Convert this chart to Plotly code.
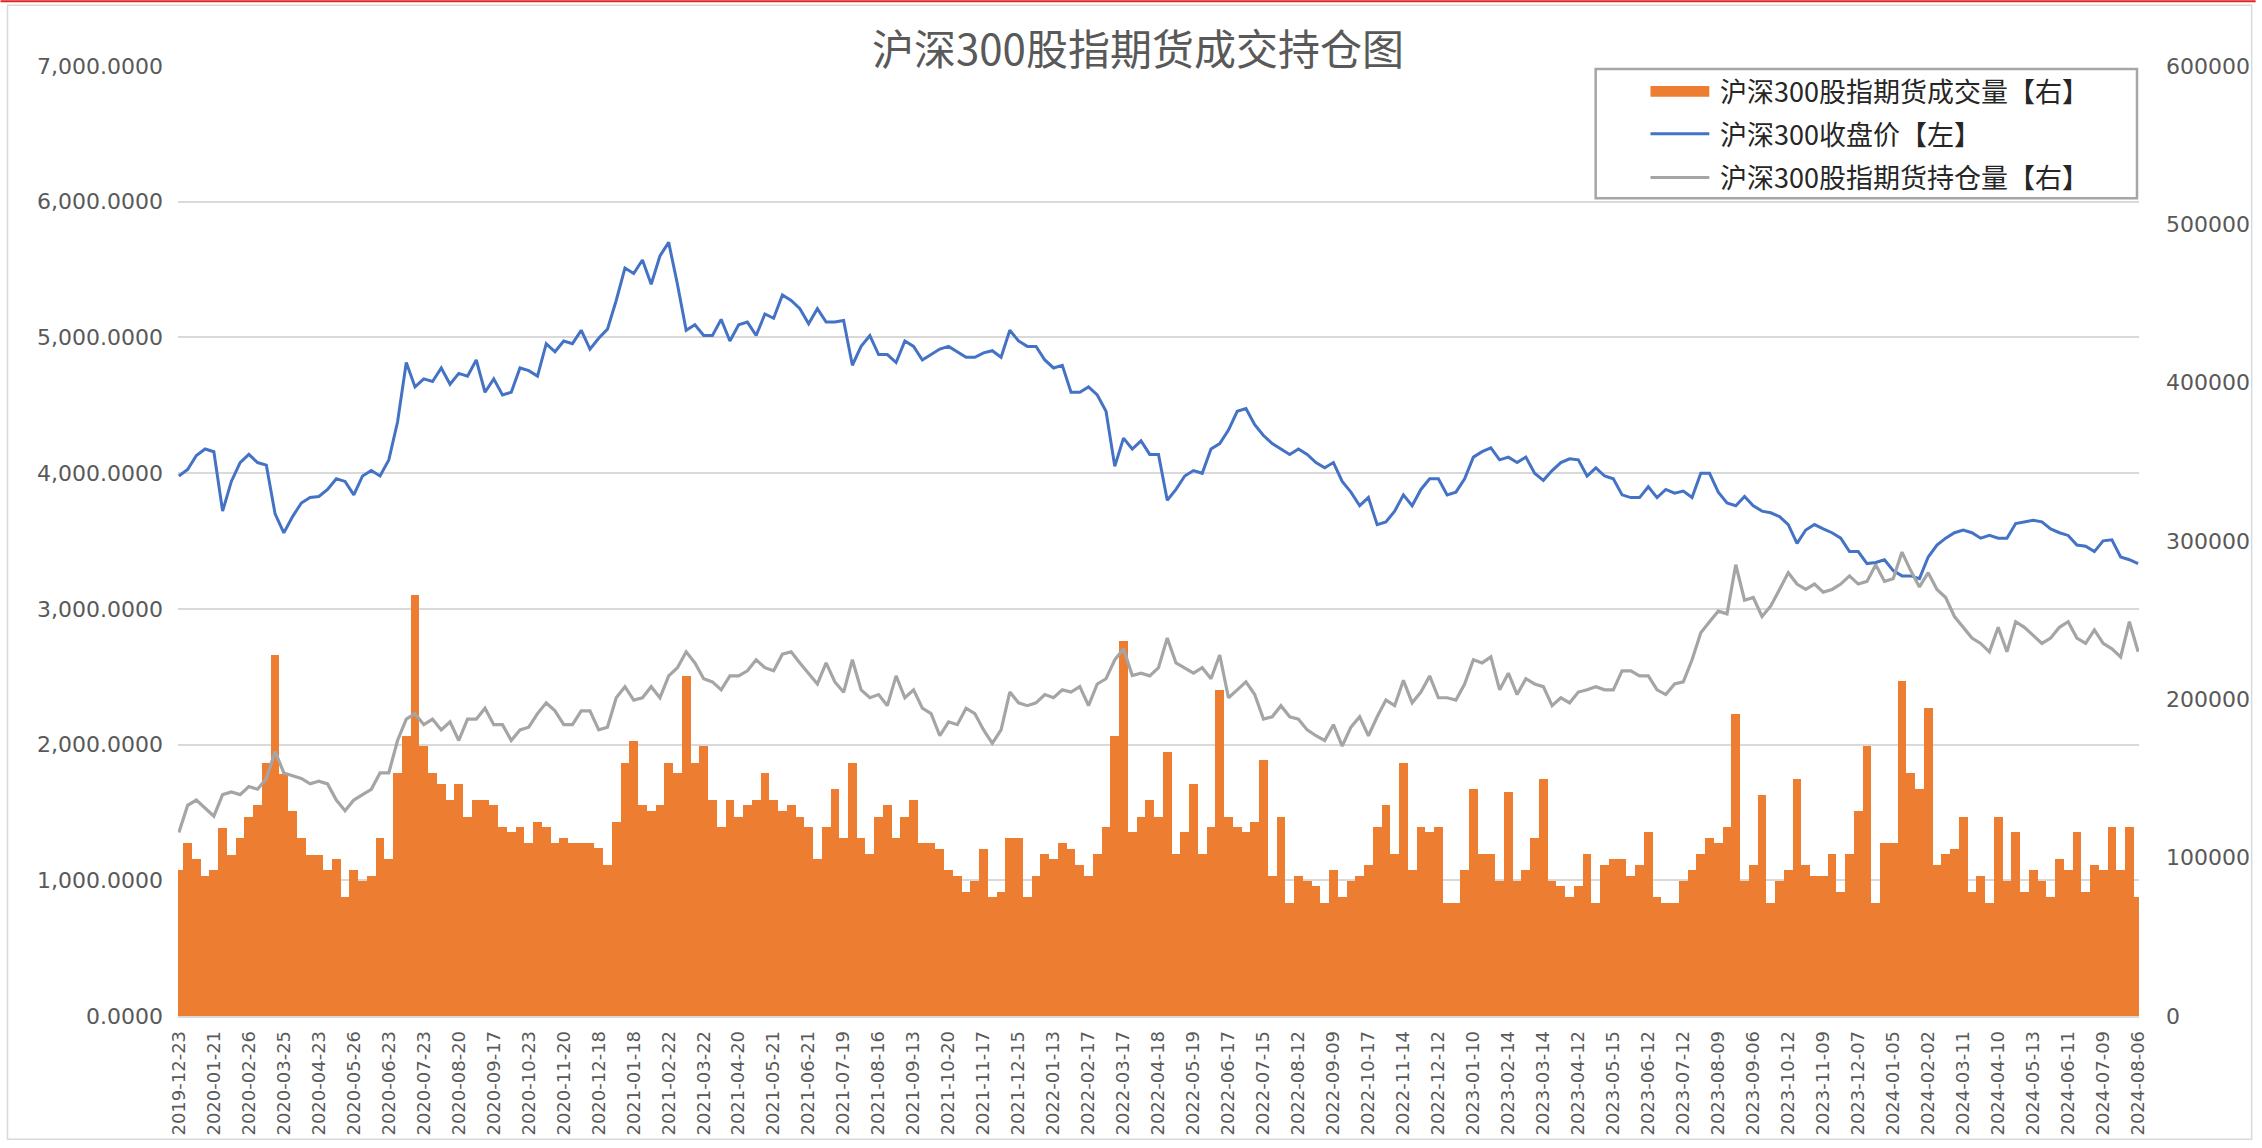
import plotly.graph_objects as go

# ---------------- data (sampled every 5 trading days) ----------------
tick_labels = [
    "2019-12-23", "2020-01-21", "2020-02-26", "2020-03-25", "2020-04-23", "2020-05-26",
    "2020-06-23", "2020-07-23", "2020-08-20", "2020-09-17", "2020-10-23", "2020-11-20",
    "2020-12-18", "2021-01-18", "2021-02-22", "2021-03-22", "2021-04-20", "2021-05-21",
    "2021-06-21", "2021-07-19", "2021-08-16", "2021-09-13", "2021-10-20", "2021-11-17",
    "2021-12-15", "2022-01-13", "2022-02-17", "2022-03-17", "2022-04-18", "2022-05-19",
    "2022-06-17", "2022-07-15", "2022-08-12", "2022-09-09", "2022-10-17", "2022-11-14",
    "2022-12-12", "2023-01-10", "2023-02-14", "2023-03-14", "2023-04-12", "2023-05-15",
    "2023-06-12", "2023-07-12", "2023-08-09", "2023-09-06", "2023-10-12", "2023-11-09",
    "2023-12-07", "2024-01-05", "2024-02-02", "2024-03-11", "2024-04-10", "2024-05-13",
    "2024-06-11", "2024-07-09", "2024-08-06",
]
tick_step = 20          # trading days between labelled dates
sample_step = 5         # trading days between sampled values

close_price = [
    3979, 4027, 4130, 4178, 4158, 3720, 3939, 4078, 4138, 4078, 4059, 3700, 3560, 3680, 3780, 3820, 3828, 3880, 3959, 3939, 3840, 3979,
    4019, 3979, 4098, 4377, 4815, 4635, 4695, 4675, 4775, 4655, 4735, 4715, 4834, 4596, 4695, 4576, 4596, 4775, 4755, 4715, 4954, 4894, 4974,
    4954, 5053, 4914, 4994, 5061, 5272, 5511, 5471, 5571, 5392, 5600, 5700, 5392, 5053, 5093, 5014, 5014, 5133, 4974, 5093, 5113, 5014, 5173,
    5141, 5312, 5272, 5212, 5101, 5212, 5113, 5113, 5125, 4795, 4934, 5014, 4874, 4874, 4815, 4974, 4934, 4834, 4874, 4914, 4934, 4894, 4854,
    4854, 4886, 4902, 4854, 5053, 4974, 4934, 4934, 4834, 4775, 4795, 4596, 4596, 4635, 4576, 4456, 4050, 4258, 4178, 4238, 4138, 4138,
    3800, 3880, 3979, 4019, 3999, 4178, 4218, 4317, 4456, 4476, 4357, 4277, 4218, 4178, 4138, 4178, 4138, 4078, 4039, 4078, 3939, 3860, 3760,
    3820, 3620, 3640, 3720, 3840, 3760, 3880, 3959, 3959, 3840, 3860, 3959, 4118, 4158, 4186, 4098, 4118, 4078, 4118, 3999, 3947, 4019, 4078,
    4106, 4098, 3979, 4039, 3979, 3959, 3840, 3820, 3820, 3900, 3820, 3880, 3852, 3868, 3820, 3999, 3999, 3860, 3780, 3760, 3828, 3760, 3720,
    3708, 3680, 3621, 3482, 3581, 3621, 3589, 3561, 3521, 3422, 3422, 3334, 3342, 3362, 3282, 3243, 3243, 3223, 3382, 3470, 3521, 3561, 3581,
    3561, 3521, 3541, 3521, 3521, 3629, 3641, 3653, 3641, 3589, 3561, 3541, 3470, 3462, 3422, 3501, 3509, 3382, 3362, 3334,
]

open_interest = [
    115900, 133000, 136400, 131300, 126200, 139800, 141500, 139800, 144900, 143200, 150000, 167100, 153500, 151700, 150000, 146600, 148300, 146600, 136400, 129600, 136400, 139800,
    143200, 153500, 153500, 174000, 187500, 191000, 184000, 187500, 180700, 185800, 174000, 187500, 187500, 194400, 184000, 184000, 174000, 180700, 182400, 191000, 197800, 192700, 184000,
    184000, 192700, 192700, 180700, 182400, 201000, 208000, 199500, 201000, 208000, 201000, 214800, 220000, 230000, 223000, 213000, 211000, 206000, 214800, 214800, 218000, 225000, 220000,
    218000, 228500, 230000, 223000, 216500, 209700, 223000, 211000, 204500, 225000, 206000, 201000, 203000, 196000, 214800, 201000, 206000, 194400, 191000, 177000, 185800, 184000, 194400,
    191000, 180700, 172200, 180700, 204600, 197800, 196000, 197800, 203000, 201000, 206000, 204600, 208000, 196000, 209700, 213000, 225000, 232000, 215000, 216500, 214800, 220000,
    238700, 223000, 220000, 216500, 220000, 213000, 228000, 201000, 206000, 211000, 203000, 187500, 189000, 196000, 189000, 187500, 180700, 177000, 174000, 184000, 170500, 182400, 189000,
    177000, 189000, 199500, 196000, 212000, 197800, 204600, 214800, 201000, 201000, 199500, 209700, 225000, 223000, 226800, 206000, 216500, 203000, 213000, 209700, 208000, 196000, 201000,
    197800, 204600, 206000, 208000, 206000, 206000, 218000, 218000, 214800, 214800, 206000, 203000, 209700, 211000, 225000, 242000, 249000, 255700, 254000, 285000, 262600, 264300, 252300,
    259000, 269400, 280000, 272800, 269400, 272800, 267700, 269400, 272800, 278000, 272800, 274500, 285000, 274500, 276200, 293000, 281300, 271000, 280000, 269400, 264300, 252300, 245500,
    238700, 235300, 230000, 245500, 230000, 249000, 245500, 240400, 235300, 238700, 245500, 249000, 238700, 235300, 243800, 235300, 231900, 226800, 249000, 230000,
]

volume = [
    92000, 109000, 99000, 88600, 92000, 119000, 102000, 112500, 126000, 133000, 160000, 228000, 153000, 129600, 112500, 102000, 102000, 92000, 99000, 75000, 92000, 85000,
    88700, 112500, 99000, 153500, 177000, 266000, 170500, 153500, 146600, 136400, 146600, 126000, 136400, 136400, 133000, 119400, 116000, 119400, 109000, 122800, 119400, 109000, 112500,
    109000, 109000, 109000, 106000, 95500, 122800, 160000, 174000, 133000, 129600, 133000, 160000, 153500, 214800, 160000, 170500, 136400, 119400, 136400, 126000, 133000, 136400, 153500,
    136400, 129600, 133000, 126000, 119400, 99000, 119400, 143200, 112500, 160000, 112500, 102300, 126000, 133000, 112500, 126000, 136400, 109000, 109000, 105700, 92000, 88700, 78400,
    85000, 105700, 75000, 78400, 112500, 112500, 75000, 88700, 102300, 99000, 109000, 105700, 95500, 88700, 102300, 119400, 177000, 237000, 116000, 126000, 136400, 126000,
    167000, 102300, 116000, 146600, 102300, 119400, 206000, 126000, 119400, 116000, 122800, 162000, 88700, 126000, 71600, 88700, 85000, 81800, 71600, 92000, 75000, 85000, 88700,
    95500, 119400, 133000, 102300, 160000, 92000, 119400, 116000, 119400, 71600, 71600, 92000, 143200, 102300, 102300, 85000, 141500, 85000, 92000, 112500, 150000, 85000, 81800,
    75000, 81800, 102300, 71600, 95500, 99000, 99000, 88700, 95500, 116000, 75000, 71600, 71600, 85000, 92000, 102300, 112500, 109000, 119400, 191000, 85000, 95500, 139800,
    71600, 85000, 92000, 150000, 95500, 88700, 88700, 102300, 78400, 102300, 129600, 170500, 71600, 109000, 109000, 211400, 153500, 143200, 194400, 95500, 102300, 105700, 126000,
    78400, 88700, 71600, 126000, 85000, 116000, 78400, 92000, 85000, 75000, 99000, 92000, 116000, 78400, 95500, 92000, 119400, 92000, 119400, 75000,
]

day_index = [i * sample_step for i in range(len(close_price))]
tick_positions = [i * tick_step for i in range(len(tick_labels))]

title_text = "沪深300股指期货成交持仓图"
name_volume = "沪深300股指期货成交量【右】"
name_close = "沪深300收盘价【左】"
name_oi = "沪深300股指期货持仓量【右】"

# ---------------- layout geometry (pixels) ----------------
FIG_W, FIG_H = 2262, 1148
PL, PR, PT, PB = 178, 2145, 66, 1021
PW, PH = PR - PL, PB - PT


def fx(px):
    return (px - PL) / PW


def fy(py):
    return (PB - py) / PH


ORANGE = "#ED7D31"
BLUE = "#4472C4"
GRAY = "#A5A5A5"
TXT = "#595959"
GRID = "#D9D9D9"
CJK = "Noto Sans CJK SC"
NUM = "DejaVu Sans"

fig = go.Figure()
fig.add_trace(go.Bar(
    x=day_index, y=volume, yaxis="y2", name=name_volume,
    marker=dict(color=ORANGE, line=dict(width=0)), width=sample_step,
    showlegend=False,
))
fig.add_trace(go.Scatter(
    x=day_index, y=open_interest, yaxis="y2", name=name_oi, mode="lines",
    line=dict(color=GRAY, width=3.2), showlegend=False,
))
fig.add_trace(go.Scatter(
    x=day_index, y=close_price, yaxis="y", name=name_close, mode="lines",
    line=dict(color=BLUE, width=3), showlegend=False,
))

fig.update_layout(
    width=FIG_W, height=FIG_H,
    margin=dict(l=PL, r=FIG_W - PR, t=PT, b=FIG_H - PB, pad=0),
    paper_bgcolor="white", plot_bgcolor="white",
    bargap=0,
    font=dict(family=NUM, color=TXT),
    xaxis=dict(
        range=[-0.5, day_index[-1] + 0.5], tickmode="array",
        tickvals=tick_positions, ticktext=tick_labels, tickangle=-90,
        tickfont=dict(family=NUM, size=18, color=TXT),
        showgrid=False, zeroline=False, showline=True,
        linecolor=GRID, linewidth=1.5, ticks="", ticklabelstandoff=6,
    ),
    yaxis=dict(
        range=[0, 7000], dtick=1000, tickformat=",.4f",
        tickfont=dict(family=NUM, size=22, color=TXT),
        showgrid=True, gridcolor=GRID, gridwidth=1.5,
        zeroline=False, showline=False, ticks="", ticklabelstandoff=14,
    ),
    yaxis2=dict(
        range=[0, 600000], dtick=100000, tickformat="d",
        overlaying="y", side="right",
        tickfont=dict(family=NUM, size=22, color=TXT),
        showgrid=False, zeroline=False, showline=False, ticks="",
        ticklabelstandoff=26,
    ),
)

shapes = []
annotations = []

# outer chart border and top red rule
shapes.append(dict(type="line", xref="paper", yref="paper",
                   x0=fx(0), x1=fx(FIG_W), y0=fy(1), y1=fy(1),
                   line=dict(color="#E02424", width=2)))
shapes.append(dict(type="rect", xref="paper", yref="paper",
                   x0=fx(7), x1=fx(FIG_W - 4), y0=fy(FIG_H - 3), y1=fy(5),
                   line=dict(color=GRID, width=1.5), fillcolor="rgba(0,0,0,0)"))

# title
annotations.append(dict(text=title_text, xref="paper", yref="paper",
                        x=fx(1141), y=fy(46), xanchor="center", yanchor="middle",
                        showarrow=False, font=dict(family=CJK, size=42, color=TXT)))

# legend box
shapes.append(dict(type="rect", xref="paper", yref="paper",
                   x0=fx(1600), x1=fx(2143), y0=fy(199), y1=fy(69),
                   line=dict(color="#A6A6A6", width=2.5), fillcolor="white"))
shapes.append(dict(type="rect", xref="paper", yref="paper",
                   x0=fx(1655), x1=fx(1714), y0=fy(97), y1=fy(86),
                   line=dict(width=0), fillcolor=ORANGE))
shapes.append(dict(type="line", xref="paper", yref="paper",
                   x0=fx(1655), x1=fx(1714), y0=fy(134), y1=fy(134),
                   line=dict(color=BLUE, width=3)))
shapes.append(dict(type="line", xref="paper", yref="paper",
                   x0=fx(1655), x1=fx(1714), y0=fy(178), y1=fy(178),
                   line=dict(color=GRAY, width=3)))
for txt, py in [(name_volume, 91), (name_close, 134), (name_oi, 177)]:
    annotations.append(dict(text=txt, xref="paper", yref="paper",
                            x=fx(1723), y=fy(py), xanchor="left", yanchor="middle",
                            showarrow=False, font=dict(family=CJK, size=27, color="#262626")))

fig.update_layout(shapes=shapes, annotations=annotations)
fig.write_html(
    "out.html",
    config={"displayModeBar": False},
    post_script="document.body.style.margin='0';document.body.style.overflow='hidden';",
)
